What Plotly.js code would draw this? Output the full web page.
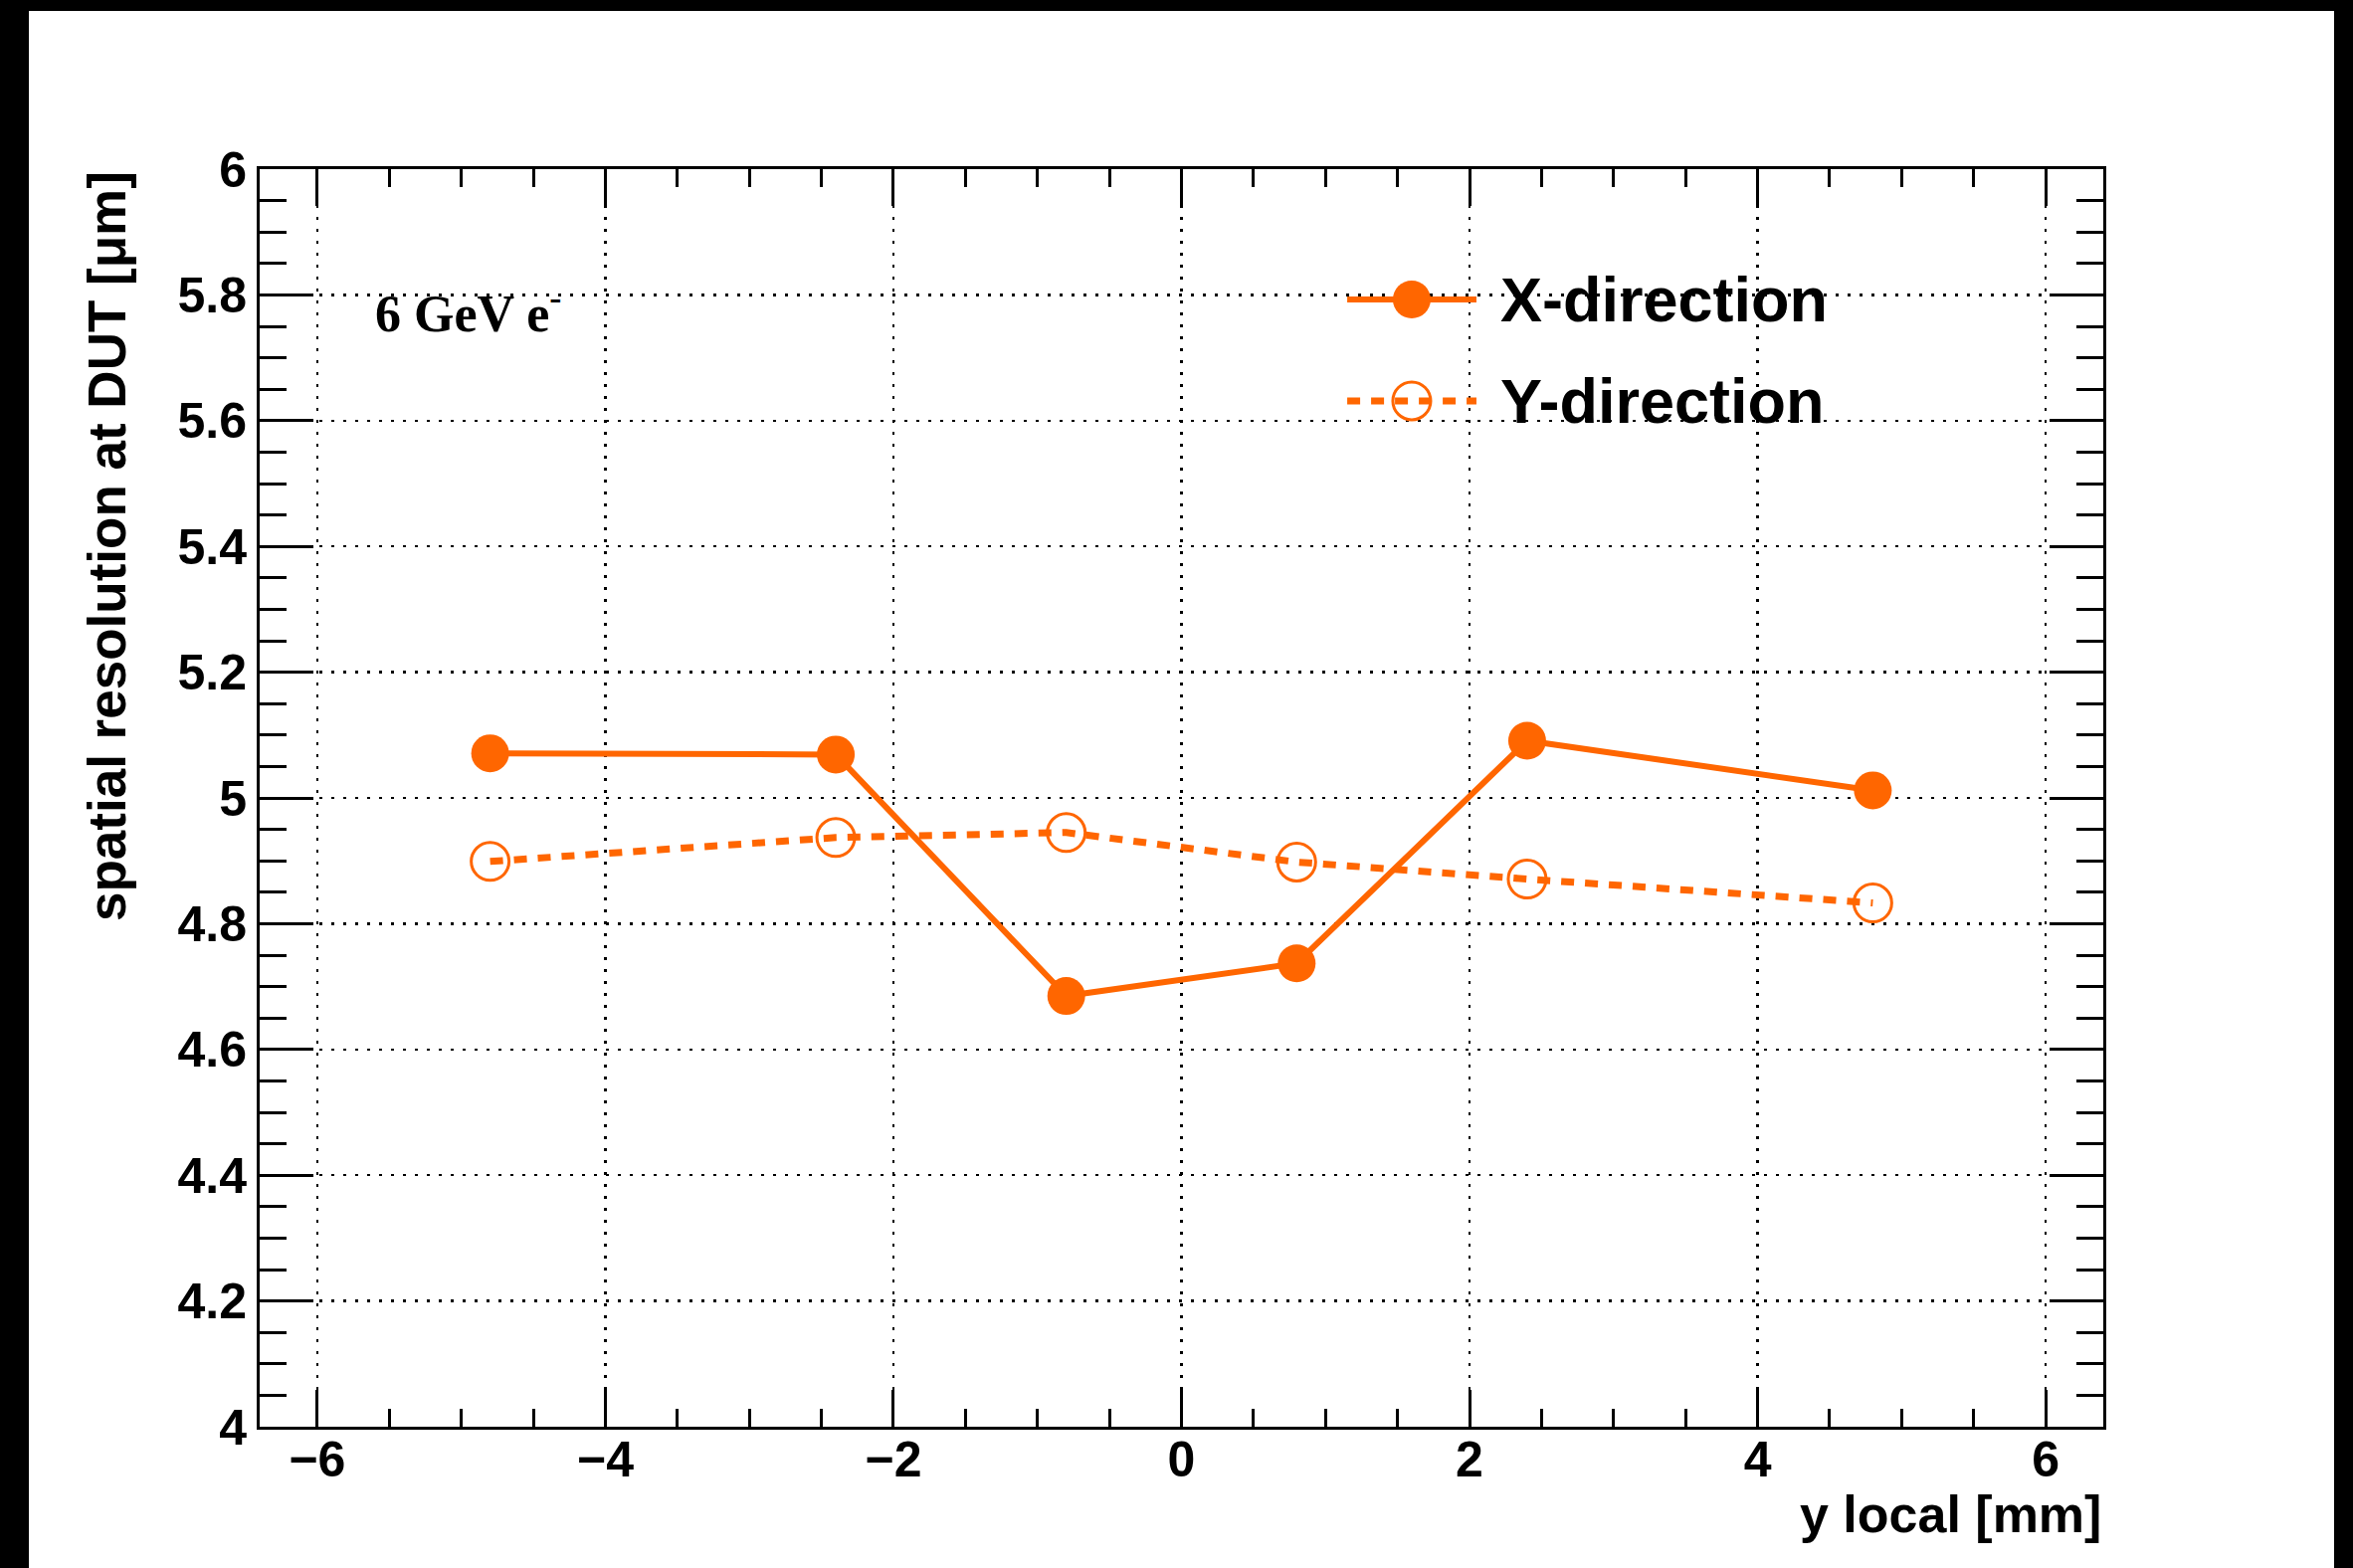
<!DOCTYPE html>
<html><head><meta charset="utf-8">
<script src="https://cdn.plot.ly/plotly-3.0.1.min.js"></script>
<style>
html,body{margin:0;padding:0;background:#000;width:2365px;height:1576px;overflow:hidden}
#chart{position:absolute;left:29px;top:11px;width:2317px;height:1565px;background:#fff}
</style>
</head><body><div id="chart"></div>
<script>
// ---- data ----
const positions = [-4.8, -2.4, -0.8, 0.8, 2.4, 4.8];
const xDirection = [5.071, 5.069, 4.685, 4.737, 5.091, 5.012];
const yDirection = [4.899, 4.937, 4.945, 4.898, 4.871, 4.833];
const seriesNames = ['X-direction', 'Y-direction'];
const xTitle = 'y local [mm]';
const yTitle = 'spatial resolution at DUT [μm]';
const beamLabel = '6 GeV e<sup>-</sup>';

// ---- styles ----
const ORANGE = 'rgb(255,102,0)';
const SANS = 'Liberation Sans, Arial, sans-serif';
const SERIF = 'Liberation Serif, Times New Roman, serif';
const DASH = '13px,11px';
const MSIZE = 38;

const traces = [
  {x: positions, y: xDirection, name: seriesNames[0], type: 'scatter', mode: 'lines+markers',
   line: {color: ORANGE, width: 6}, marker: {color: ORANGE, size: MSIZE, symbol: 'circle'}, showlegend: false},
  {x: positions, y: yDirection, name: seriesNames[1], type: 'scatter', mode: 'lines+markers',
   line: {color: ORANGE, width: 7, dash: DASH},
   marker: {color: ORANGE, size: MSIZE, symbol: 'circle-open', line: {color: ORANGE, width: 3}}, showlegend: false}
];

const axisCommon = {
  ticks: 'inside', tickwidth: 3, tickcolor: '#000',
  showline: true, linewidth: 3, linecolor: '#000', mirror: 'allticks',
  showgrid: true, gridcolor: '#000', gridwidth: 2.5, griddash: '3px,9px',
  zeroline: false, fixedrange: true,
  tickfont: {family: SANS, size: 50, weight: 'bold', color: '#000'}
};

// custom legend (ROOT style): long line sample + big marker + label
const legendX0 = 0.5899, legendX1 = 0.660, legendXm = 0.6249, legendTextX = 0.672;
const legendRows = [0.8964, 0.8157];
const shapes = [];
const annotations = [];
seriesNames.forEach((nm, i) => {
  const tr = traces[i];
  shapes.push({type: 'line', xref: 'paper', yref: 'paper', x0: legendX0, x1: legendX1,
    y0: legendRows[i], y1: legendRows[i], line: {color: ORANGE, width: tr.line.width, dash: tr.line.dash || 'solid'}});
  const r = MSIZE / 2;
  shapes.push({type: 'circle', xref: 'paper', yref: 'paper', xsizemode: 'pixel', ysizemode: 'pixel',
    xanchor: legendXm, yanchor: legendRows[i], x0: -r, x1: r, y0: -r, y1: r,
    fillcolor: i === 0 ? ORANGE : 'rgba(0,0,0,0)', line: {color: ORANGE, width: i === 0 ? 0 : 3}});
  annotations.push({xref: 'paper', yref: 'paper', x: legendTextX, y: legendRows[i], xanchor: 'left', yanchor: 'middle',
    text: nm, showarrow: false, font: {family: SANS, size: 63, weight: 'bold', color: '#000'}});
});
annotations.push({xref: 'paper', yref: 'paper', x: 0.0615, y: 0.8877, xanchor: 'left', yanchor: 'middle',
  text: beamLabel, showarrow: false, font: {family: SERIF, size: 52, weight: 'bold', color: '#000'}});
annotations.push({xref: 'paper', yref: 'paper', x: 1.0, y: -0.0696, xanchor: 'right', yanchor: 'middle',
  text: xTitle, showarrow: false, font: {family: SANS, size: 52, weight: 'bold', color: '#000'}});
annotations.push({xref: 'paper', yref: 'paper', x: -0.0831, y: 1.0, xanchor: 'center', yanchor: 'top', textangle: -90,
  text: yTitle, showarrow: false, font: {family: SANS, size: 53, weight: 'bold', color: '#000'}});

const layout = {
  width: 2317, height: 1565,
  margin: {l: 232, r: 232, t: 159, b: 142, pad: 0},
  paper_bgcolor: '#fff', plot_bgcolor: '#fff',
  showlegend: false,
  xaxis: Object.assign({}, axisCommon, {range: [-6.4, 6.4], tick0: 0, dtick: 2, ticklen: 37, ticklabelstandoff: -13,
    minor: {dtick: 0.5, tick0: 0, ticks: 'inside', ticklen: 18, tickwidth: 3, tickcolor: '#000', showgrid: false}}),
  yaxis: Object.assign({}, axisCommon, {range: [4, 6], tick0: 4, dtick: 0.2, ticklen: 54,
    minor: {dtick: 0.05, tick0: 4, ticks: 'inside', ticklen: 27, tickwidth: 3, tickcolor: '#000', showgrid: false}}),
  shapes: shapes,
  annotations: annotations
};

Plotly.newPlot('chart', traces, layout, {displayModeBar: false, staticPlot: true});
</script>
</body></html>
